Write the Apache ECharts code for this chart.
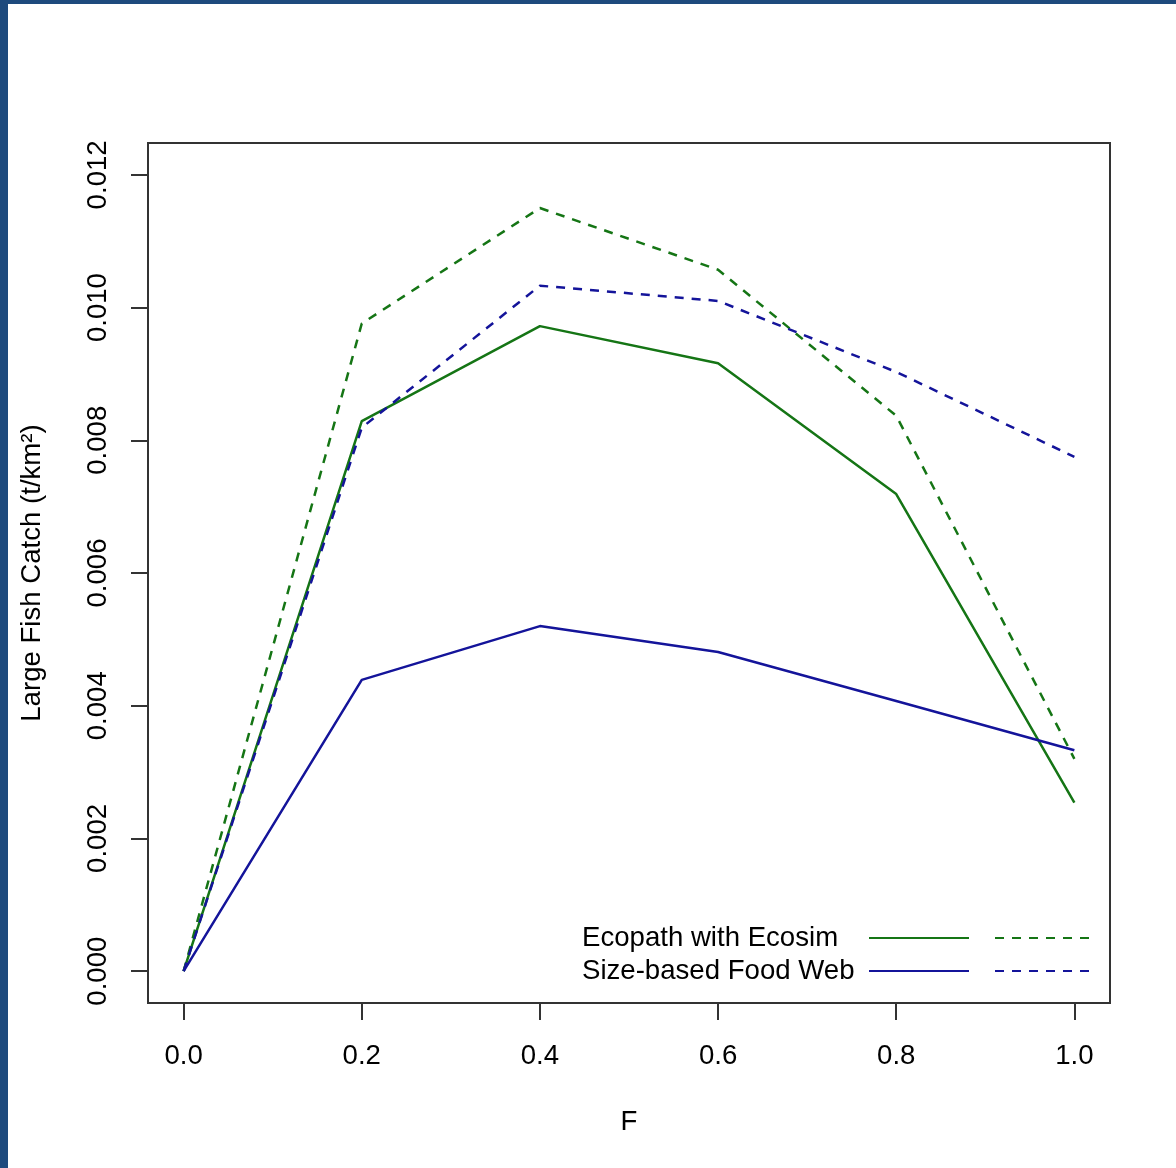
<!DOCTYPE html>
<html>
<head>
<meta charset="utf-8">
<script src="https://cdn.jsdelivr.net/npm/echarts@6/dist/echarts.min.js"></script>
<style>
  html, body { margin: 0; padding: 0; background: #ffffff; }
  #wrap { position: relative; width: 1176px; height: 1168px; overflow: hidden; background: #ffffff; }
  #chart { position: absolute; left: 0; top: 0; width: 1176px; height: 1168px; }
  .edge { position: absolute; background: #1e4a7d; z-index: 2; }
</style>
</head>
<body>
<div id="wrap">
  <div id="chart"></div>
  <div class="edge" style="left:0;top:0;width:1176px;height:4px;"></div>
  <div class="edge" style="left:0;top:0;width:8px;height:1168px;"></div>
</div>
<script>
// Fishing mortality levels
const fishingF = [0.0, 0.2, 0.4, 0.6, 0.8, 1.0];

// Large fish catch (t/km^2) per model
const eweSolid = [0.0, 0.00829, 0.00972, 0.00916, 0.00719, 0.00254];
const eweDashed = [0.0, 0.00976, 0.01150, 0.01057, 0.00837, 0.00320];
const sfwSolid = [0.0, 0.00439, 0.00520, 0.00481, 0.00407, 0.00333];
const sfwDashed = [0.0, 0.00819, 0.01033, 0.01010, 0.00903, 0.00775];

// Axis ticks
const xTicks = [0.0, 0.2, 0.4, 0.6, 0.8, 1.0];
const yTicks = [0.000, 0.002, 0.004, 0.006, 0.008, 0.010, 0.012];

const modelNames = ['Ecopath with Ecosim', 'Size-based Food Web'];

const GREEN = '#157515';
const BLUE = '#14149a';
const FONT = 'Liberation Sans, Arial, Helvetica, sans-serif';
const FS = 27.6;
const DASH = [9, 8];

function pairs(xs, ys) {
  return xs.map((x, i) => [x, ys[i]]);
}

function lineSeries(name, values, color, dashed) {
  return {
    name: name,
    type: 'line',
    data: pairs(fishingF, values),
    symbol: 'none',
    showSymbol: false,
    silent: true,
    animation: false,
    lineStyle: { color: color, width: 2.5, type: dashed ? DASH : 'solid' },
    itemStyle: { color: color }
  };
}

const chart = echarts.init(document.getElementById('chart'), null, { renderer: 'canvas' });

const labelStyle = { fontFamily: FONT, fontSize: FS, color: '#000000' };

// one legend per entry so the sample lines line up in two columns
function legendFor(seriesName, opts) {
  return Object.assign({
    data: [seriesName],
    orient: 'vertical',
    padding: 0,
    itemWidth: 100,
    itemHeight: 14,
    selectedMode: false,
    itemStyle: { color: 'rgba(0,0,0,0)', borderColor: 'rgba(0,0,0,0)', borderWidth: 0, opacity: 0 },
    textStyle: {
      fontFamily: FONT, fontSize: FS, color: '#000000',
      rich: { t: { fontFamily: FONT, fontSize: FS, color: '#000000', width: 282, align: 'left' } }
    }
  }, opts);
}

chart.setOption({
  backgroundColor: '#ffffff',
  animation: false,
  grid: {
    left: 148, top: 143, right: 66, bottom: 165,
    show: true, borderColor: '#333333', borderWidth: 2, backgroundColor: 'transparent'
  },
  xAxis: {
    type: 'value',
    min: -0.04, max: 1.04,
    name: 'F',
    nameLocation: 'middle',
    nameGap: 105,
    nameTextStyle: labelStyle,
    axisLine: { show: false, onZero: false },
    splitLine: { show: false },
    axisTick: { show: true, inside: false, length: 17, customValues: xTicks,
      lineStyle: { color: '#333333', width: 2 } },
    axisLabel: { show: true, margin: 39, customValues: xTicks,
      formatter: v => v.toFixed(1), fontFamily: FONT, fontSize: FS, color: '#000000' }
  },
  yAxis: {
    type: 'value',
    min: -0.00048, max: 0.01248,
    name: 'Large Fish Catch (t/km²)',
    nameLocation: 'middle',
    nameRotate: 90,
    nameGap: 102,
    nameTextStyle: labelStyle,
    axisLine: { show: false, onZero: false },
    splitLine: { show: false },
    axisTick: { show: true, inside: false, length: 17, customValues: yTicks,
      lineStyle: { color: '#333333', width: 2 } },
    axisLabel: { show: true, margin: 36, rotate: 90, customValues: yTicks,
      formatter: v => v.toFixed(3), fontFamily: FONT, fontSize: FS, color: '#000000' }
  },
  legend: [
    legendFor(modelNames[0], { left: 582, top: 924, align: 'right', formatter: n => '{t|' + n + '}' }),
    legendFor(modelNames[1], { left: 582, top: 957, align: 'right', formatter: n => '{t|' + n + '}' }),
    legendFor('EwE dashed', { left: 994, top: 931, formatter: () => '' }),
    legendFor('SFW dashed', { left: 994, top: 964, formatter: () => '' })
  ],
  series: [
    lineSeries(modelNames[0], eweSolid, GREEN, false),
    lineSeries('EwE dashed', eweDashed, GREEN, true),
    lineSeries(modelNames[1], sfwSolid, BLUE, false),
    lineSeries('SFW dashed', sfwDashed, BLUE, true)
  ]
});
</script>
</body>
</html>
